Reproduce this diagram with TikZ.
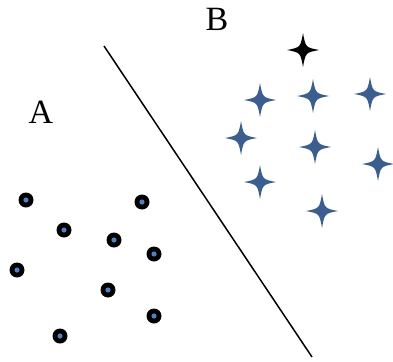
\documentclass[tikz,border=0pt]{standalone}
\usepackage{fontspec}
\setmainfont{Liberation Serif}
\definecolor{dotblue}{RGB}{79,129,189}
\definecolor{starblue}{RGB}{59,94,143}
\tikzset{
  sparkle/.pic={
    \fill (0,17) .. controls (2.6,2.6) .. (16,0) .. controls (2.6,-2.6) .. (0,-17)
      .. controls (-2.6,-2.6) .. (-16,0) .. controls (-2.6,2.6) .. cycle;
  },
  dot/.pic={
    \fill[black] (0,0) circle (7.5);
    \fill[dotblue] (0,0) circle (2.6);
  },
  letter/.style={font=\fontsize{34}{40}\selectfont, inner sep=0pt}
}
\begin{document}
\begin{tikzpicture}[x=1pt,y=-1pt]
            \useasboundingbox (0,0) rectangle (393,361);
            % separating line
            \coordinate (top) at (104,46);
            \coordinate (bot) at (312,357);
            \draw[line width=1.5pt] (top) -- (bot);
            % class labels
            \node[letter] (labA) at (41,112) {A};
            \node[letter] (labB) at (217,19) {B};
            % class A
            \foreach \x/\y in {26/200, 64/230, 114/240, 142/202, 154/254,
                               17/270, 108/290, 154/316, 60/336}
              \pic at (\x,\y) {dot};
            % class B
            \foreach \x/\y in {260/100, 313/96, 370/94, 241/138, 315/147,
                               378/164, 260/182, 322/211}
              \pic[starblue] at (\x,\y) {sparkle};
            \pic[black] at (303,50) {sparkle};
        \end{tikzpicture}
\end{document}
